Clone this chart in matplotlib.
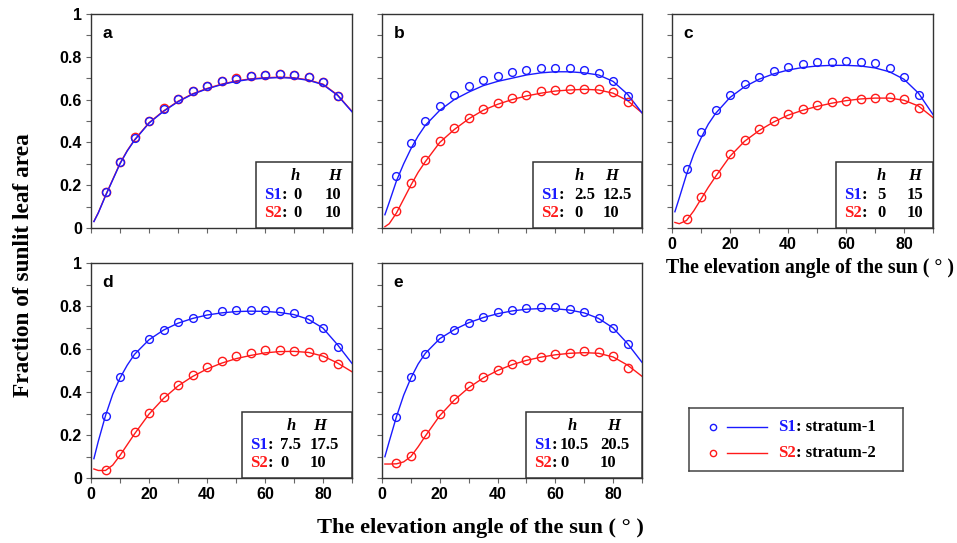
import matplotlib.pyplot as plt
import numpy as np
from matplotlib.patches import Rectangle
from matplotlib.ticker import MultipleLocator

# ---- data ----
angles = [5, 10, 15, 20, 25, 30, 35, 40, 45, 50, 55, 60, 65, 70, 75, 80, 85]
fit_angles = [1, 2.5, 5, 7.5, 10, 12.5, 15, 20, 25, 30, 35, 40, 45, 50, 55,
              60, 65, 70, 75, 80, 85, 90]

panel_names = ['a', 'b', 'c', 'd', 'e']
s1_h = ['0', '2.5', '5', '7.5', '10.5']
s1_H = ['10', '12.5', '15', '17.5', '20.5']
s2_h = ['0', '0', '0', '0', '0']
s2_H = ['10', '10', '10', '10', '10']

a_s1_obs = [0.166, 0.309, 0.422, 0.501, 0.558, 0.603, 0.639, 0.662, 0.685,
            0.698, 0.709, 0.715, 0.718, 0.715, 0.704, 0.680, 0.617]
a_s2_obs = [0.167, 0.310, 0.423, 0.502, 0.559, 0.605, 0.640, 0.663, 0.686,
            0.699, 0.710, 0.716, 0.719, 0.716, 0.705, 0.681, 0.618]
a_s1_fit = [0.030, 0.070, 0.150, 0.225, 0.300, 0.360, 0.410, 0.490, 0.545,
            0.590, 0.625, 0.650, 0.670, 0.685, 0.695, 0.700, 0.703, 0.700,
            0.690, 0.670, 0.620, 0.543]
a_s2_fit = [0.031, 0.071, 0.152, 0.227, 0.302, 0.362, 0.412, 0.492, 0.547,
            0.592, 0.627, 0.652, 0.672, 0.687, 0.697, 0.702, 0.705, 0.702,
            0.692, 0.672, 0.622, 0.545]

b_s1_obs = [0.245, 0.395, 0.499, 0.572, 0.623, 0.662, 0.690, 0.712, 0.729,
            0.740, 0.747, 0.750, 0.747, 0.740, 0.724, 0.688, 0.617]
b_s2_obs = [0.079, 0.211, 0.318, 0.405, 0.467, 0.516, 0.555, 0.583, 0.606,
            0.623, 0.639, 0.645, 0.650, 0.651, 0.650, 0.634, 0.591]
b_s1_fit = [0.062, 0.120, 0.220, 0.300, 0.370, 0.430, 0.480, 0.550, 0.600,
            0.635, 0.665, 0.685, 0.700, 0.715, 0.725, 0.730, 0.730, 0.725,
            0.715, 0.685, 0.625, 0.538]
b_s2_fit = [0.006, 0.020, 0.070, 0.135, 0.200, 0.260, 0.310, 0.400, 0.460,
            0.510, 0.550, 0.578, 0.600, 0.617, 0.630, 0.640, 0.645, 0.648,
            0.645, 0.630, 0.595, 0.538]

c_s1_obs = [0.278, 0.447, 0.553, 0.623, 0.673, 0.707, 0.733, 0.753, 0.767,
            0.774, 0.777, 0.780, 0.777, 0.771, 0.750, 0.707, 0.622]
c_s2_obs = [0.040, 0.144, 0.254, 0.344, 0.409, 0.462, 0.502, 0.533, 0.557,
            0.574, 0.588, 0.595, 0.602, 0.608, 0.611, 0.602, 0.561]
c_s1_fit = [0.076, 0.140, 0.250, 0.345, 0.420, 0.485, 0.535, 0.610, 0.660,
            0.695, 0.720, 0.738, 0.750, 0.757, 0.760, 0.760, 0.757, 0.748,
            0.730, 0.695, 0.630, 0.530]
c_s2_fit = [0.026, 0.020, 0.035, 0.080, 0.135, 0.190, 0.240, 0.335, 0.405,
            0.455, 0.495, 0.527, 0.550, 0.568, 0.583, 0.595, 0.603, 0.607,
            0.607, 0.597, 0.570, 0.516]

d_s1_obs = [0.290, 0.471, 0.578, 0.647, 0.690, 0.724, 0.746, 0.763, 0.775,
            0.781, 0.783, 0.783, 0.775, 0.766, 0.741, 0.696, 0.611]
d_s2_obs = [0.037, 0.110, 0.212, 0.302, 0.377, 0.434, 0.479, 0.516, 0.544,
            0.566, 0.580, 0.594, 0.595, 0.592, 0.588, 0.564, 0.529]
d_s1_fit = [0.090, 0.170, 0.290, 0.390, 0.465, 0.525, 0.575, 0.643, 0.688,
            0.720, 0.742, 0.758, 0.768, 0.774, 0.776, 0.775, 0.770, 0.760,
            0.738, 0.697, 0.620, 0.533]
d_s2_fit = [0.042, 0.035, 0.035, 0.060, 0.105, 0.155, 0.205, 0.297, 0.370,
            0.428, 0.472, 0.507, 0.534, 0.555, 0.570, 0.582, 0.588, 0.589,
            0.584, 0.567, 0.535, 0.494]

e_s1_obs = [0.284, 0.468, 0.578, 0.650, 0.690, 0.722, 0.750, 0.771, 0.783,
            0.791, 0.795, 0.795, 0.786, 0.771, 0.743, 0.698, 0.623]
e_s2_obs = [0.071, 0.104, 0.206, 0.296, 0.367, 0.426, 0.470, 0.502, 0.530,
            0.549, 0.564, 0.575, 0.583, 0.591, 0.588, 0.566, 0.513]
e_s1_fit = [0.099, 0.170, 0.285, 0.385, 0.465, 0.530, 0.580, 0.648, 0.690,
            0.722, 0.746, 0.764, 0.777, 0.785, 0.788, 0.787, 0.781, 0.768,
            0.742, 0.698, 0.625, 0.538]
e_s2_fit = [0.065, 0.065, 0.066, 0.075, 0.100, 0.145, 0.195, 0.290, 0.362,
            0.420, 0.465, 0.500, 0.527, 0.547, 0.562, 0.573, 0.580, 0.583,
            0.580, 0.563, 0.525, 0.473]

obs_s1 = [a_s1_obs, b_s1_obs, c_s1_obs, d_s1_obs, e_s1_obs]
obs_s2 = [a_s2_obs, b_s2_obs, c_s2_obs, d_s2_obs, e_s2_obs]
fit_s1 = [a_s1_fit, b_s1_fit, c_s1_fit, d_s1_fit, e_s1_fit]
fit_s2 = [a_s2_fit, b_s2_fit, c_s2_fit, d_s2_fit, e_s2_fit]

# ---- layout (pixels in the 957x543 canvas) ----
W, H = 957, 543
BLUE = '#1a1aff'
RED = '#ff1a1a'
SERIF = 'Liberation Serif'
SANS = 'Liberation Sans'
TFS = 12  # inset table font size

# left, top, right, bottom
boxes_px = [(91, 14, 352, 228), (382, 14, 642, 228), (672, 14, 933, 228),
            (91, 263, 352, 478), (382, 263, 642, 478)]
# inset table: box width, value col1, value col2, header h centre, header H centre
table_px = [(96, 37, 69, 39, 79), (109, 41, 70, 46, 79), (97, 41, 71, 45, 79),
            (110, 38, 68, 49, 78), (116, 34, 74, 46, 88)]
show_x = [False, False, True, True, True]
show_y = [True, False, False, True, False]

fig = plt.figure(figsize=(W / 100, H / 100), dpi=100)


def px_rect(l, t, r, b):
    return [l / W, 1 - b / H, (r - l) / W, (b - t) / H]


def draw_table(ax, i, wpx, hpx):
    bw, c1, c2, hc, Hc = table_px[i]
    bh = 66
    x0 = 1 - bw / wpx
    ax.add_patch(Rectangle((x0, 0), bw / wpx, bh / hpx, transform=ax.transAxes,
                           facecolor='white', edgecolor='#333333', lw=1.1,
                           zorder=6, clip_on=False))

    def put(xp, yp, s, **kw):
        return ax.text(x0 + xp / wpx, (bh - yp) / hpx, s, transform=ax.transAxes,
                       va='center', fontfamily=SERIF, fontweight='bold',
                       fontsize=TFS, zorder=7, **kw)

    put(hc, 14, 'h', ha='center', style='italic')
    put(Hc, 14, 'H', ha='center', style='italic')
    rows = [('S1', BLUE, s1_h[i], s1_H[i], 33), ('S2', RED, s2_h[i], s2_H[i], 51)]
    for name, col, hv, Hv, yp in rows:
        t = put(8, yp, name, ha='left', color=col)
        ax.annotate(':', xy=(1, 0), xycoords=t, va='bottom', ha='left',
                    fontfamily=SERIF, fontweight='bold', fontsize=TFS, zorder=7)
        put(c1, yp, hv, ha='left')
        put(c2, yp, Hv, ha='left')


for i, name in enumerate(panel_names):
    l, t, r, b = boxes_px[i]
    ax = fig.add_axes(px_rect(l, t, r, b))
    wpx, hpx = r - l, b - t

    ax.plot(fit_angles, fit_s2[i], color=RED, lw=1.0, zorder=2)
    ax.plot(fit_angles, fit_s1[i], color=BLUE, lw=1.0, zorder=3)
    ax.plot(angles, obs_s2[i], 'o', mfc='none', mec=RED, ms=6.0, mew=1.0, zorder=4)
    ax.plot(angles, obs_s1[i], 'o', mfc='none', mec=BLUE, ms=5.6, mew=1.0, zorder=5)

    ax.set_xlim(0, 90)
    ax.set_ylim(0, 1)
    ax.xaxis.set_major_locator(MultipleLocator(20))
    ax.xaxis.set_minor_locator(MultipleLocator(10))
    ax.yaxis.set_major_locator(MultipleLocator(0.2))
    ax.yaxis.set_minor_locator(MultipleLocator(0.1))
    ax.tick_params(which='both', direction='out', length=3.5, width=0.8,
                   color='#666666', labelsize=11.5, pad=3)
    for sp in ax.spines.values():
        sp.set_color('#333333')
        sp.set_linewidth(1.0)

    if show_x[i]:
        ax.set_xticks([0, 20, 40, 60, 80])
        ax.set_xticklabels(['0', '20', '40', '60', '80'], fontfamily=SANS,
                           fontweight='bold')
    else:
        ax.tick_params(axis='x', labelbottom=False)
    if show_y[i]:
        ax.set_yticks([0, 0.2, 0.4, 0.6, 0.8, 1.0])
        ax.set_yticklabels(['0', '0.2', '0.4', '0.6', '0.8', '1'],
                           fontfamily=SANS, fontweight='bold')
    else:
        ax.tick_params(axis='y', labelleft=False)

    ax.text(0.045, 0.945, name, transform=ax.transAxes, ha='left', va='top',
            fontfamily=SANS, fontweight='bold', fontsize=12.5)
    draw_table(ax, i, wpx, hpx)

# axis titles
fig.text(0.025, 0.512, 'Fraction of sunlit leaf area', rotation=90,
         ha='center', va='center', fontfamily=SERIF, fontweight='bold',
         fontsize=16.8)
fig.text(0.502, 0.028, 'The elevation angle of the sun ( \u00b0 )',
         ha='center', va='center', fontfamily=SERIF, fontweight='bold',
         fontsize=16.2)
fig.text(0.846, 0.506, 'The elevation angle of the sun ( \u00b0 )',
         ha='center', va='center', fontfamily=SERIF, fontweight='bold',
         fontsize=14.3)

# legend box
lg = fig.add_axes(px_rect(689, 408, 903, 471))
lg.set_xlim(0, 1)
lg.set_ylim(0, 1)
lg.set_xticks([])
lg.set_yticks([])
for sp in lg.spines.values():
    sp.set_color('#444444')
    sp.set_linewidth(1.1)
for name, col, label, y in [('S1', BLUE, ': stratum-1', 0.70),
                            ('S2', RED, ': stratum-2', 0.29)]:
    lg.plot([0.112], [y], 'o', mfc='none', mec=col, ms=4.5, mew=1.0)
    lg.plot([0.178, 0.364], [y, y], color=col, lw=1.0)
    t = lg.text(0.416, y, name, color=col, va='center', ha='left',
                fontfamily=SERIF, fontweight='bold', fontsize=12)
    lg.annotate(label, xy=(1, 0), xycoords=t, va='bottom', ha='left',
                fontfamily=SERIF, fontweight='bold', fontsize=12)

fig.savefig('out.png', dpi=100)
